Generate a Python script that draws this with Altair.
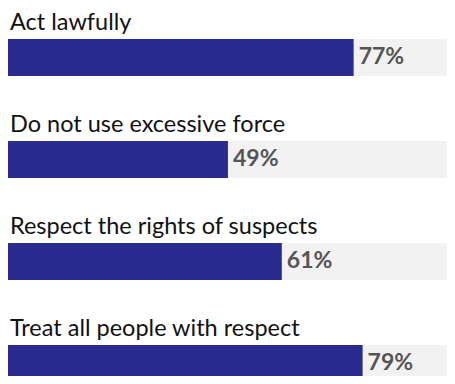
import altair as alt
import pandas as pd

categories = [
    "Act lawfully",
    "Do not use excessive force",
    "Respect the rights of suspects",
    "Treat all people with respect",
]
values = [77, 49, 61, 79]
labels = ["77%", "49%", "61%", "79%"]

df = pd.DataFrame({"cat": categories, "value": values, "label": labels})

W, H = 439, 368
# bands: first top at 31, step ~102, band 37
yscale = alt.Scale(range=[31, 31 + 102 * (4 - 0.6373)], paddingInner=0.6373, paddingOuter=0)
y = alt.Y("cat:N", sort=categories, axis=None, scale=yscale)
xscale = alt.Scale(domain=[0, 97.8], nice=False, zero=True)

base = alt.Chart(df)

bg = base.mark_bar(color="#f2f2f2", clip=True).encode(
    y=y,
    x=alt.value(0),
    x2=alt.value(W),
)
bars = base.mark_bar(color="#2b2b8f", clip=True).encode(
    y=y,
    x=alt.X("value:Q", scale=xscale, axis=None),
)
pct = base.mark_text(
    align="left", baseline="middle", dx=5, font="Lato", fontSize=23,
    fontWeight="bold", color="#555555",
).encode(
    y=y,
    x=alt.X("value:Q", scale=xscale, axis=None),
    text="label:N",
)
names = base.mark_text(
    align="left", baseline="alphabetic", dy=-27, font="Lato", fontSize=23.5,
    color="#111111",
).encode(
    y=y,
    x=alt.value(2),
    text="cat:N",
)

chart = (
    alt.layer(bg, bars, pct, names)
    .properties(width=W, height=H, padding=0, autosize=alt.AutoSizeParams(type="none"))
    .configure_view(stroke=None)
)
chart.save("out.html", embed_options={"renderer": "svg", "actions": False})
